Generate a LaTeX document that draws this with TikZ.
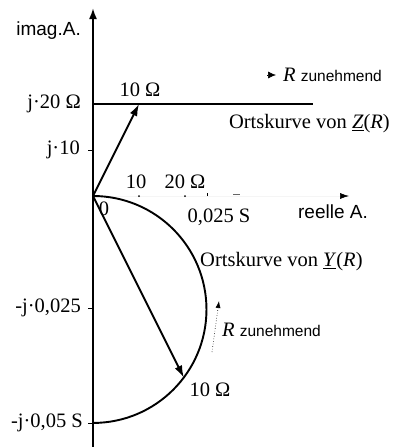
\documentclass[tikz,border=0pt]{standalone}
\usepackage{fontspec}
\setmainfont{Liberation Serif}
\newfontfamily\axisfont{Liberation Sans}
\usetikzlibrary{arrows.meta,positioning}

\begin{document}
\begin{tikzpicture}[
    x=1pt, y=1pt,
    % --- Styles ---
    lbl node/.style={font=\fontsize{20.5}{23}\selectfont, inner sep=0pt},
    % axis names in a sans face
    axis node/.style={font=\axisfont\fontsize{19}{21}\selectfont, inner sep=0pt},
    axis line/.style={line width=1.9pt, -{Latex[length=11pt,width=8pt]}},
    vec line/.style={line width=1.9pt, -{Latex[length=12pt,width=8pt]}},
    curve line/.style={line width=1.9pt},
    tick line/.style={line width=1pt}
]

%================CONFIGURATION================
% origin in px (y downward, written negative)
\def\ox{93}
\def\oy{-196}
% \zunit: px per Ohm, \yunit: px per Siemens
\def\zunit{4.6}
\def\yunit{4540}
% font for the word zunehmend
\def\smallsans{\axisfont\fontsize{15.5}{17}\selectfont}
%=============================================

\useasboundingbox (0,0) rectangle (400,-447);

% --- 1. Axes ---
\coordinate (O) at (\ox,\oy);
\coordinate (ImBot) at (\ox,-447);
\coordinate (ImTop) at (\ox,-8);
\coordinate (ReEnd) at (349,\oy);
\draw[axis line] (ImBot) -- (ImTop);
\draw[draw=black!4, line width=0.6pt, -{Latex[black,length=9pt,width=6pt]}] (O) -- (ReEnd);

% ticks on the imaginary axis
\foreach \yy in {-150,-308,-423} {
    \draw[tick line] (\ox-5,\yy) -- (\ox,\yy);
}
% ticks on the real axis
\foreach \xx in {139,185} {
    \fill (\xx,\oy) circle (1);
}
\draw[tick line] (207,\oy) -- (207,\oy+3);
\draw[tick line, black!60] (233,\oy+2) -- (240,\oy+2);

% --- 2. Z(R): horizontal line ---
\pgfmathsetmacro{\zx}{\ox + 10*\zunit}
\pgfmathsetmacro{\zy}{\oy + 20*\zunit}
\coordinate (ZStart) at (\ox,\zy);
\coordinate (ZEnd) at (313,\zy);
\coordinate (ZTen) at (\zx,\zy);
\draw[curve line] (ZStart) -- (ZEnd);
\draw[vec line] (O) -- (ZTen);

% --- 3. Y(R): half circle ---
\pgfmathsetmacro{\rad}{0.025*\yunit}
\pgfmathsetmacro{\yx}{\ox + 0.02*\yunit}
\pgfmathsetmacro{\yy}{\oy - 0.04*\yunit}
\coordinate (YTen) at (\yx,\yy);
\draw[curve line] (O) arc[start angle=90, end angle=-90, radius=\rad];
\draw[vec line] (O) -- (YTen);

% --- 4. Labels ---
\node[axis node, anchor=east] (ImLbl) at (81,-31) {imag.A.};
\node[lbl node, anchor=east] (J20) at (81,\zy) {j·20 Ω};
\node[lbl node, anchor=east] (J10) at (80,-150) {j·10};
\node[lbl node, anchor=east] (MJ025) at (81,-308) {-j·0,025};
\node[lbl node, anchor=east] (MJ05) at (83,-423) {-j·0,05 S};
\node[lbl node] (ZTenLbl) at (140,-90) {10 Ω};
\node[lbl node] (Re10) at (136,-182) {10};
\node[lbl node] (Re20) at (185,-182) {20 Ω};
\node[lbl node] (Zero) at (104,-209) {0};
\node[lbl node] (Re025) at (219,-217) {0,025 S};
\node[axis node] (ReLbl) at (333,-212) {reelle A.};
\node[lbl node, anchor=east] (ZName) at (390,-124) {Ortskurve von \underline{\textit{Z}}(\textit{R})};
\node[lbl node, anchor=west] (YName) at (200,-262) {Ortskurve von \underline{\textit{Y}}(\textit{R})};
\node[lbl node] (YTenLbl) at (210,-390) {10 Ω};

% R increasing, top
\node[lbl node, anchor=west] (RTop) at (283,-75) {\textit{R} \smallsans zunehmend};
\coordinate (RArrA) at (267,-75);
\draw[-{Latex[length=8pt,width=7pt]}, line width=0.6pt] (RArrA) -- ([xshift=-7pt]RTop.west);

% R increasing, along the circle
\node[lbl node, anchor=west] (RLow) at (222,-330) {\textit{R} \smallsans zunehmend};
\coordinate (RDotA) at (212,-352);
\coordinate (RDotB) at (219,-301);
\draw[dotted, line width=0.6pt, -{Latex[length=7pt,width=5pt]}] (RDotA) -- (RDotB);

\end{tikzpicture}
\end{document}
